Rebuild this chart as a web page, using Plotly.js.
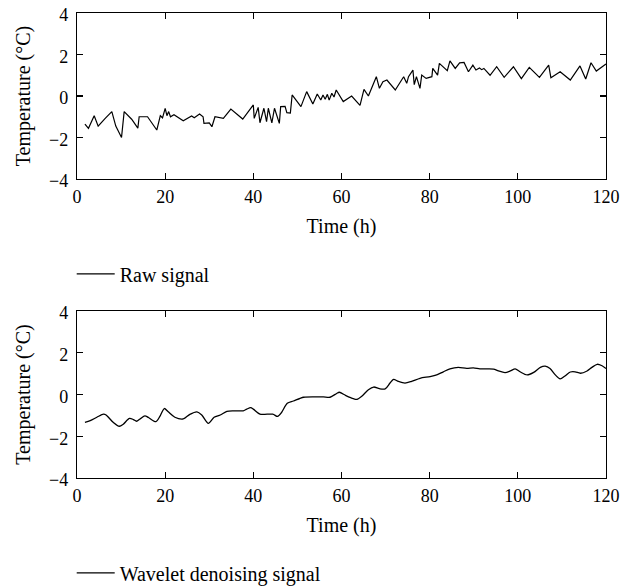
<!DOCTYPE html>
<html>
<head>
<meta charset="utf-8">
<script src="https://cdn.plot.ly/plotly-3.0.1.min.js"></script>
<style>html,body{margin:0;padding:0;background:#fff;}#chart{width:633px;height:588px;}</style>
</head>
<body>
<div id="chart"></div>
<script>
// Raw signal (time in h, temperature in °C)
const rawTime = [1.8,2.6,3.9,4.8,6.4,7.9,8.8,10.1,10.7,12.4,13.8,14.1,16.0,18.1,18.9,19.4,20.0,20.4,20.8,21.2,22.0,24.1,26.0,26.6,27.8,28.6,28.8,30.0,30.6,31.3,33.2,34.9,37.6,40.0,40.2,41.1,41.5,42.4,43.0,43.4,44.2,44.8,45.9,46.2,47.2,47.6,48.4,48.8,50.8,52.1,53.5,54.5,55.3,55.8,56.3,56.8,57.2,57.8,58.3,58.8,60.4,62.3,64.2,65.1,66.1,67.9,68.6,69.4,70.3,72.2,74.1,74.8,75.2,76.2,76.5,77.0,77.8,78.2,79.2,80.5,80.7,81.8,82.2,84.0,84.6,85.8,86.8,87.8,88.8,89.8,90.5,91.3,91.8,92.3,93.7,95.2,96.9,99.0,100.8,102.6,104.9,107.0,107.5,109.6,111.9,114.1,115.4,116.6,117.8,120.0];
const rawTemp = [-1.35,-1.56,-0.95,-1.45,-1.08,-0.75,-1.45,-2.0,-0.75,-1.12,-1.55,-1.0,-1.0,-1.64,-0.95,-1.05,-0.6,-0.95,-0.75,-1.0,-0.9,-1.19,-0.96,-1.05,-0.87,-1.0,-1.32,-1.3,-1.48,-1.0,-1.08,-0.63,-1.11,-0.43,-1.08,-0.55,-1.29,-0.59,-1.24,-0.59,-1.29,-0.59,-1.32,-0.51,-0.5,-0.8,-0.82,0.05,-0.51,0.21,-0.39,0.1,-0.19,0.05,-0.16,0.08,-0.2,0.13,-0.05,0.29,-0.27,0.0,-0.45,0.32,0.0,0.93,0.37,0.69,0.77,0.29,0.93,0.61,0.93,1.25,0.55,0.93,0.37,1.01,0.85,0.93,1.33,1.01,1.57,1.22,1.69,1.33,1.6,1.62,1.17,1.49,1.25,1.35,1.27,1.33,1.0,1.41,0.9,1.41,0.84,1.38,0.9,1.49,0.88,1.17,0.77,1.45,0.82,1.6,1.2,1.54];

// Wavelet denoising signal
const wavTime = [1.8,3.0,4.5,6.0,6.6,8.2,9.6,10.5,11.9,12.8,13.5,14.3,15.4,16.2,17.9,18.8,19.8,20.7,22.2,24.1,25.6,27.2,28.3,29.8,31.1,32.5,34.0,35.5,37.7,38.5,39.4,40.0,41.5,44.4,45.5,46.4,47.7,49.1,51.4,54.4,55.9,57.4,58.9,59.5,61.0,62.7,63.5,64.6,66.1,67.3,68.6,69.9,71.0,71.8,72.9,74.4,75.9,77.8,80.1,81.6,83.1,84.6,86.5,88.4,89.9,91.4,92.9,94.5,95.6,97.1,98.3,99.4,100.5,102.1,103.6,105.1,106.2,107.3,108.5,109.6,110.7,111.9,113.0,114.2,115.7,116.8,118.0,119.1,120.0];
const wavTemp = [-1.33,-1.25,-1.09,-0.94,-0.98,-1.33,-1.52,-1.42,-1.14,-1.2,-1.28,-1.17,-1.02,-1.1,-1.3,-1.05,-0.67,-0.83,-1.09,-1.17,-0.95,-0.83,-0.98,-1.38,-1.09,-0.98,-0.81,-0.78,-0.78,-0.7,-0.63,-0.7,-0.94,-0.94,-1.05,-0.86,-0.42,-0.31,-0.13,-0.11,-0.11,-0.13,0.05,0.11,-0.05,-0.2,-0.23,-0.08,0.23,0.36,0.28,0.27,0.55,0.73,0.63,0.55,0.63,0.78,0.86,0.94,1.09,1.23,1.3,1.25,1.28,1.23,1.23,1.22,1.13,1.05,1.13,1.23,1.09,0.94,1.06,1.3,1.36,1.25,0.94,0.75,0.89,1.08,1.09,1.02,1.13,1.3,1.45,1.38,1.25];

const xTicks = [0,20,40,60,80,100,120];
const yTicks = [-4,-2,0,2,4];

const FONT = 'Liberation Serif, Times New Roman, serif';
const FS = 18;
const TS = 20;
const axisCommon = {
  showline: true, linecolor: '#000', linewidth: 1.2,
  mirror: 'allticks', ticks: 'inside', ticklen: 6, tickwidth: 1.2, tickcolor: '#000',
  showgrid: false, zeroline: false, automargin: false,
  tickfont: {family: FONT, size: FS, color: '#000'}
};
const xCommon = Object.assign({}, axisCommon, {range: [0,120], tickvals: xTicks, ticklabelstandoff: 1,
  title: {text: 'Time (h)', font: {family: FONT, size: TS}, standoff: 13}});
const yCommon = Object.assign({}, axisCommon, {range: [-4,4], tickvals: yTicks, ticklabelstandoff: 4, ticklabelshift: 2,
  title: {text: 'Temperature (°C)', font: {family: FONT, size: TS}, standoff: 13}});

const traces = [
  {x: rawTime, y: rawTemp, type: 'scatter', mode: 'lines', name: 'Raw signal',
   line: {color: '#000', width: 1.2}, xaxis: 'x', yaxis: 'y', legend: 'legend'},
  {x: wavTime, y: wavTemp, type: 'scatter', mode: 'lines', name: 'Wavelet denoising signal',
   line: {color: '#000', width: 1.3, shape: 'spline', smoothing: 0.8}, xaxis: 'x2', yaxis: 'y2', legend: 'legend2'}
];

const legendCommon = {xanchor: 'left', yanchor: 'middle', bgcolor: 'rgba(0,0,0,0)', itemwidth: 38,
  font: {family: FONT, size: TS}};

const layout = {
  width: 633, height: 588,
  margin: {l: 77, r: 27, t: 13, b: 110, autoexpand: false},
  paper_bgcolor: '#fff', plot_bgcolor: '#fff',
  font: {family: FONT, size: FS, color: '#000'},
  xaxis: Object.assign({}, xCommon, {anchor: 'y'}),
  yaxis: Object.assign({}, yCommon, {domain: [0.643, 1], anchor: 'x'}),
  xaxis2: Object.assign({}, xCommon, {anchor: 'y2'}),
  yaxis2: Object.assign({}, yCommon, {domain: [0, 0.359], anchor: 'x2'}),
  showlegend: true,
  legend: Object.assign({}, legendCommon, {x: -0.01, y: 0.439}),
  legend2: Object.assign({}, legendCommon, {x: -0.01, y: -0.204})
};

Plotly.newPlot('chart', traces, layout, {displayModeBar: false, staticPlot: true});
</script>
</body>
</html>
